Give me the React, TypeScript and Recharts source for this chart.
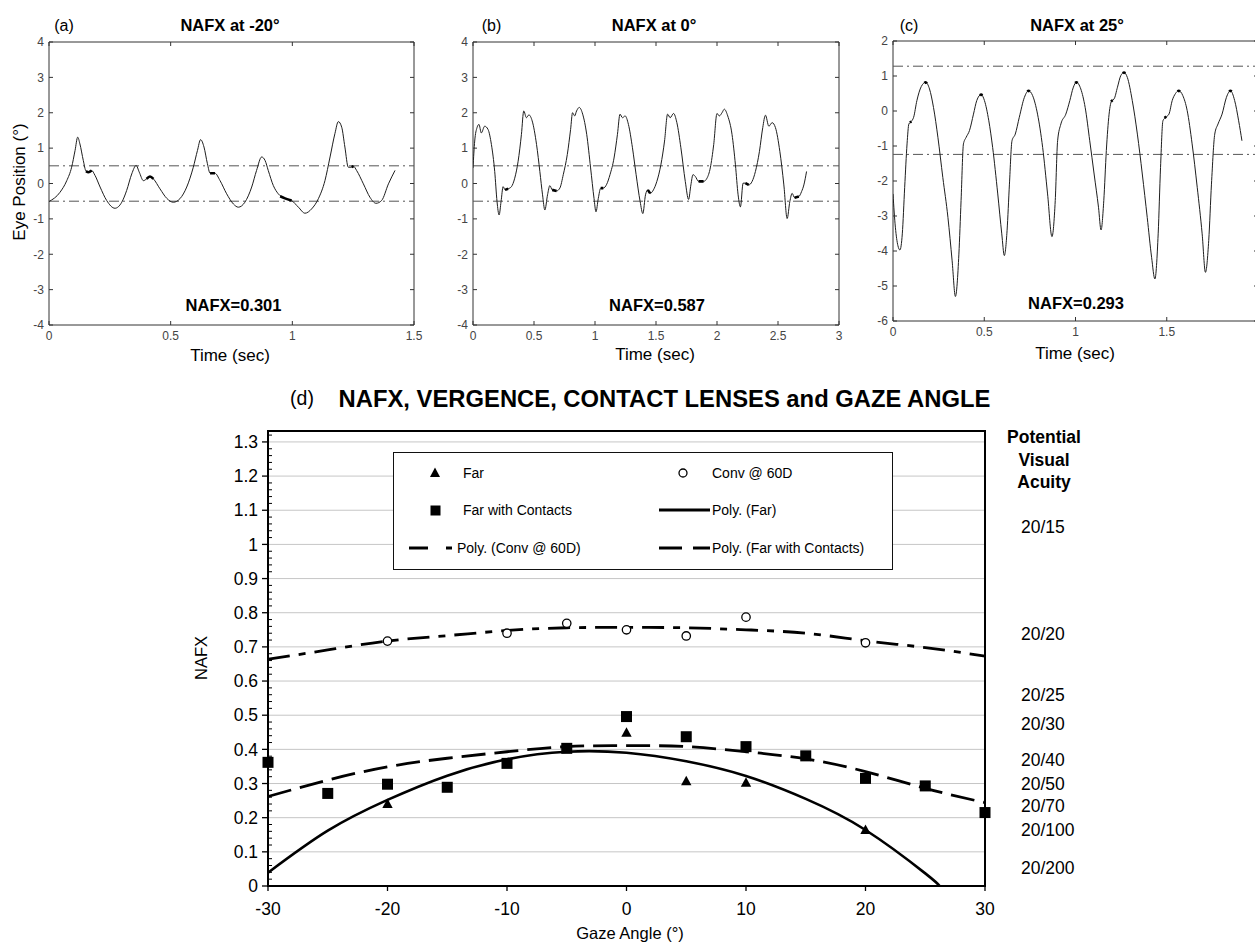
import React from 'react';
import {
  LineChart, Line, XAxis, YAxis, ReferenceLine, ReferenceArea,
  ComposedChart, Scatter, CartesianGrid, Legend,
} from 'recharts';

const FONT = '"Liberation Sans", Arial, Helvetica, sans-serif';

// ---------------- Panel (a): NAFX at -20° ----------------
const timeA = [0, 0.045, 0.073, 0.093, 0.107, 0.118, 0.127, 0.141, 0.152, 0.162, 0.175, 0.189, 0.21, 0.237, 0.271, 0.299, 0.319, 0.34, 0.358, 0.371, 0.388, 0.401, 0.415, 0.429, 0.456, 0.484, 0.511, 0.538, 0.566, 0.593, 0.61, 0.623, 0.637, 0.651, 0.662, 0.682, 0.703, 0.73, 0.758, 0.778, 0.805, 0.833, 0.853, 0.874, 0.888, 0.901, 0.922, 0.942, 0.97, 0.997, 1.025, 1.052, 1.079, 1.107, 1.134, 1.155, 1.175, 1.189, 1.203, 1.216, 1.23, 1.244, 1.251, 1.264, 1.292, 1.319, 1.344, 1.367, 1.395, 1.422];
const posA = [-0.51, -0.25, 0.08, 0.46, 0.93, 1.31, 1.12, 0.65, 0.35, 0.32, 0.37, 0.23, -0.10, -0.48, -0.70, -0.53, -0.20, 0.27, 0.51, 0.32, 0.08, 0.13, 0.20, 0.13, -0.15, -0.42, -0.53, -0.43, -0.10, 0.46, 0.93, 1.24, 1.03, 0.56, 0.29, 0.29, 0.08, -0.29, -0.58, -0.67, -0.53, -0.10, 0.37, 0.75, 0.65, 0.37, -0.06, -0.29, -0.42, -0.48, -0.67, -0.84, -0.72, -0.43, 0.08, 0.75, 1.41, 1.75, 1.59, 1.03, 0.46, 0.46, 0.49, 0.37, -0.01, -0.39, -0.56, -0.48, -0.01, 0.37];
const fovTimeA = [0.152, 0.162, 0.175, 0.3, 0.401, 0.415, 0.429, 0.55, 0.662, 0.682, 0.8, 0.95, 0.97, 0.997, 1.1, 1.244, 1.251];
const fovPosA = [0.35, 0.32, 0.37, null, 0.13, 0.20, 0.13, null, 0.29, 0.29, null, -0.36, -0.42, -0.48, null, 0.46, 0.49];
const threshA = [-0.5, 0.5];
const xTicksA = [0, 0.5, 1, 1.5];
const yTicksAB = [-4, -3, -2, -1, 0, 1, 2, 3, 4];

// ---------------- Panel (b): NAFX at 0° ----------------
const timeB = [0, 0.014, 0.033, 0.049, 0.068, 0.096, 0.123, 0.151, 0.178, 0.197, 0.214, 0.23, 0.247, 0.263, 0.288, 0.315, 0.342, 0.37, 0.397, 0.416, 0.438, 0.458, 0.485, 0.521, 0.548, 0.57, 0.589, 0.611, 0.63, 0.649, 0.685, 0.712, 0.74, 0.773, 0.8, 0.816, 0.833, 0.849, 0.871, 0.899, 0.932, 0.964, 0.992, 1.008, 1.027, 1.047, 1.068, 1.096, 1.123, 1.156, 1.184, 1.205, 1.225, 1.247, 1.274, 1.307, 1.337, 1.37, 1.392, 1.414, 1.433, 1.452, 1.479, 1.507, 1.54, 1.57, 1.595, 1.616, 1.644, 1.671, 1.704, 1.74, 1.767, 1.786, 1.803, 1.822, 1.849, 1.89, 1.918, 1.945, 1.973, 2.0, 2.019, 2.041, 2.06, 2.088, 2.123, 2.151, 2.173, 2.192, 2.214, 2.233, 2.26, 2.288, 2.315, 2.348, 2.375, 2.397, 2.425, 2.452, 2.479, 2.515, 2.548, 2.575, 2.597, 2.616, 2.636, 2.671, 2.693, 2.712, 2.734];
const posB = [0.44, 1.20, 1.58, 1.67, 1.43, 1.62, 1.53, 1.10, 0.34, -0.51, -0.89, -0.51, -0.09, -0.18, -0.15, -0.09, 0.15, 0.63, 1.39, 2.05, 1.86, 1.94, 1.77, 1.10, 0.34, -0.32, -0.75, -0.32, -0.06, -0.18, -0.21, -0.13, 0.25, 0.82, 1.53, 2.00, 1.91, 2.05, 2.15, 1.96, 1.39, 0.44, -0.42, -0.80, -0.42, -0.13, -0.13, -0.02, 0.25, 0.72, 1.39, 1.96, 1.86, 1.91, 1.67, 1.01, 0.25, -0.51, -0.85, -0.32, -0.18, -0.28, -0.18, 0.06, 0.53, 1.20, 1.96, 1.86, 1.98, 1.72, 1.01, 0.06, -0.45, -0.04, 0.25, 0.20, 0.06, 0.06, 0.15, 0.44, 1.10, 1.98, 1.91, 2.00, 2.10, 1.91, 1.39, 0.53, -0.32, -0.66, 0.01, 0.01, -0.04, 0.06, 0.34, 0.91, 1.58, 1.93, 1.62, 1.72, 1.58, 0.91, -0.04, -0.99, -0.51, -0.28, -0.40, -0.37, -0.23, -0.04, 0.34];
const fovTimeB = [0.263, 0.288, 0.45, 0.649, 0.685, 0.9, 1.047, 1.068, 1.2, 1.433, 1.452, 1.6, 1.849, 1.89, 2.0, 2.233, 2.26, 2.4, 2.636, 2.671];
const fovPosB = [-0.18, -0.15, null, -0.18, -0.21, null, -0.13, -0.13, null, -0.18, -0.28, null, 0.06, 0.06, null, 0.01, -0.04, null, -0.40, -0.37];
const threshB = [-0.5, 0.5];
const xTicksB = [0, 0.5, 1, 1.5, 2, 2.5, 3];

// ---------------- Panel (c): NAFX at 25° ----------------
const timeC = [0, 0.013, 0.027, 0.038, 0.051, 0.064, 0.077, 0.087, 0.1, 0.113, 0.131, 0.155, 0.179, 0.2, 0.222, 0.246, 0.273, 0.301, 0.324, 0.342, 0.361, 0.373, 0.386, 0.401, 0.419, 0.441, 0.459, 0.483, 0.501, 0.525, 0.546, 0.574, 0.596, 0.61, 0.625, 0.638, 0.652, 0.67, 0.692, 0.72, 0.743, 0.765, 0.792, 0.82, 0.847, 0.871, 0.889, 0.902, 0.92, 0.947, 0.969, 0.987, 1.005, 1.029, 1.053, 1.078, 1.102, 1.126, 1.14, 1.155, 1.169, 1.184, 1.199, 1.211, 1.23, 1.248, 1.266, 1.284, 1.311, 1.339, 1.366, 1.393, 1.417, 1.435, 1.453, 1.466, 1.479, 1.494, 1.512, 1.53, 1.548, 1.566, 1.588, 1.612, 1.639, 1.667, 1.694, 1.712, 1.73, 1.745, 1.763, 1.781, 1.803, 1.827, 1.849, 1.872, 1.894, 1.912];
const posC = [-2.37, -3.32, -3.85, -3.97, -3.51, -2.18, -0.94, -0.37, -0.30, -0.18, 0.30, 0.70, 0.82, 0.63, 0.10, -0.75, -1.90, -3.04, -4.28, -5.30, -4.09, -2.56, -0.94, -0.75, -0.56, -0.09, 0.30, 0.47, 0.30, -0.28, -1.04, -2.37, -3.51, -4.13, -3.42, -2.09, -0.85, -0.66, -0.18, 0.39, 0.58, 0.44, -0.09, -1.04, -2.37, -3.59, -2.56, -0.85, -0.37, -0.09, 0.30, 0.66, 0.82, 0.63, 0.10, -0.85, -1.80, -2.75, -3.40, -2.56, -1.13, -0.09, 0.30, 0.34, 0.68, 1.01, 1.10, 0.96, 0.30, -0.66, -1.80, -3.04, -4.18, -4.80, -3.51, -1.61, -0.28, -0.18, -0.09, 0.30, 0.50, 0.58, 0.44, 0.01, -0.94, -2.18, -3.51, -4.61, -3.70, -2.09, -0.66, -0.37, -0.09, 0.39, 0.58, 0.30, -0.28, -0.85];
const fovTimeC = [0.093, 0.1, 0.14, 0.172, 0.179, 0.186, 0.3, 0.476, 0.483, 0.49, 0.6, 0.736, 0.743, 0.75, 0.9, 0.998, 1.005, 1.012, 1.1, 1.195, 1.203, 1.23, 1.259, 1.266, 1.273, 1.4, 1.488, 1.497, 1.53, 1.559, 1.566, 1.573, 1.7, 1.842, 1.849, 1.856];
const fovPosC = [-0.33, -0.30, null, 0.80, 0.82, 0.79, null, 0.45, 0.47, 0.45, null, 0.56, 0.58, 0.56, null, 0.80, 0.82, 0.80, null, 0.27, 0.31, null, 1.08, 1.10, 1.08, null, -0.20, -0.16, null, 0.56, 0.58, 0.56, null, 0.56, 0.58, 0.56];
const threshC = [-1.24, 1.28];
const xTicksC = [0, 0.5, 1, 1.5];
const yTicksC = [-6, -5, -4, -3, -2, -1, 0, 1, 2];

// ---------------- Panel (d): NAFX vs gaze angle ----------------
const gazeFar = [-20, 0, 5, 10, 20];
const nafxFar = [0.240, 0.449, 0.307, 0.302, 0.164];
const gazeContacts = [-30, -25, -20, -15, -10, -5, 0, 5, 10, 15, 20, 25, 30];
const nafxContacts = [0.362, 0.271, 0.298, 0.289, 0.359, 0.403, 0.496, 0.437, 0.408, 0.381, 0.315, 0.293, 0.215];
const gazeConv = [-20, -10, -5, 0, 5, 10, 20];
const nafxConv = [0.717, 0.740, 0.769, 0.750, 0.732, 0.787, 0.712];
const fitGaze = [-30, -25, -20, -15, -10, -5, 0, 5, 10, 15, 20, 25, 30];
const fitConv = [0.664, 0.691, 0.717, 0.733, 0.748, 0.756, 0.757, 0.756, 0.750, 0.740, 0.718, 0.698, 0.673];
const fitContacts = [0.262, 0.310, 0.349, 0.374, 0.393, 0.408, 0.411, 0.408, 0.393, 0.372, 0.335, 0.286, 0.244];
const fitFarGaze = [-30, -25, -20, -15, -10, -5, 0, 5, 10, 15, 20, 25, 26.2];
const fitFar = [0.039, 0.162, 0.252, 0.323, 0.371, 0.393, 0.390, 0.365, 0.322, 0.255, 0.164, 0.037, 0];
const nafxMajorTicks = [0, 0.1, 0.2, 0.3, 0.4, 0.5, 0.6, 0.7, 0.8, 0.9, 1, 1.1, 1.2, 1.3];
const gazeTicks = [-30, -20, -10, 0, 10, 20, 30];
const acuityNafx = [1.051, 0.738, 0.559, 0.474, 0.369, 0.299, 0.234, 0.164, 0.053];
const acuityLabels = ['20/15', '20/20', '20/25', '20/30', '20/40', '20/50', '20/70', '20/100', '20/200'];
const NAFX_MAX = 1.332;
const nafxAllTicks: number[] = [];
for (let i = 0; i * 0.02 <= NAFX_MAX; i++) nafxAllTicks.push(Number((i * 0.02).toFixed(2)));

const zipT = (ts: number[], vs: (number | null)[]) => ts.map((t, i) => ({ t, v: vs[i] }));
const zipX = (xs: number[], ys: number[]) => xs.map((x, i) => ({ x, y: ys[i] }));

// ---------------- helpers ----------------
const Txt = ({ x, y, size, bold, children, anchor = 'middle', rotate }: any) => (
  <div
    style={{
      position: 'absolute', left: x, top: y, whiteSpace: 'nowrap', lineHeight: 1,
      fontSize: size, fontWeight: bold ? 'bold' : 'normal', color: '#000',
      transform: `translate(${anchor === 'middle' ? '-50%' : anchor === 'end' ? '-100%' : '0'}, -50%)${rotate ? ` rotate(${rotate}deg)` : ''}`,
    }}
  >
    {children}
  </div>
);

const MatXTick = (p: any) => {
  const { x, y, payload, plotTop, margin } = p;
  const axisY = y - margin;
  return (
    <g>
      <line x1={x} x2={x} y1={axisY} y2={axisY - 4} stroke="#333" strokeWidth={1} />
      <line x1={x} x2={x} y1={plotTop} y2={plotTop + 4} stroke="#333" strokeWidth={1} />
      <text x={x} y={y} dy="0.71em" textAnchor="middle" fontSize={12} fill="#444" fontFamily={FONT}>
        {String(payload.value)}
      </text>
    </g>
  );
};

const MatYTick = (p: any) => {
  const { x, y, payload, plotRight, margin } = p;
  const axisX = x + margin;
  return (
    <g>
      <line x1={axisX} x2={axisX + 4} y1={y} y2={y} stroke="#333" strokeWidth={1} />
      <line x1={plotRight} x2={plotRight - 4} y1={y} y2={y} stroke="#333" strokeWidth={1} />
      <text x={x} y={y} dy="0.355em" textAnchor="end" fontSize={12} fill="#444" fontFamily={FONT}>
        {String(payload.value)}
      </text>
    </g>
  );
};

const TracePanel = ({ left, top, width, height, plotTop, plotBottom, yAxisW, marginRight, xDomain, yDomain, xTicks, yTicks, trace, fov, thresholds }: any) => {
  const plotRight = width - marginRight;
  return (
    <div style={{ position: 'absolute', left, top }}>
      <LineChart width={width} height={height} margin={{ top: plotTop, right: marginRight, bottom: 0, left: 0 }}>
        <XAxis
          type="number" dataKey="t" domain={xDomain} ticks={xTicks} interval={0} allowDataOverflow
          axisLine={false} tickLine={false} tickSize={0} tickMargin={6} height={height - plotBottom}
          tick={(p: any) => <MatXTick {...p} plotTop={plotTop} margin={6} />}
        />
        <YAxis
          type="number" domain={yDomain} ticks={yTicks} interval={0} allowDataOverflow
          axisLine={false} tickLine={false} tickSize={0} tickMargin={5} width={yAxisW}
          tick={(p: any) => <MatYTick {...p} plotRight={plotRight} margin={5} />}
        />
        <ReferenceArea x1={xDomain[0]} x2={xDomain[1]} y1={yDomain[0]} y2={yDomain[1]} fill="none" fillOpacity={0} stroke="#333" strokeWidth={1} ifOverflow="visible" />
        {thresholds.map((v: number) => (
          <ReferenceLine key={v} y={v} stroke="#555" strokeWidth={1} strokeDasharray="10 4 2 4" />
        ))}
        <Line data={trace} dataKey="v" type="monotone" stroke="#1e1e1e" strokeWidth={1} dot={false} isAnimationActive={false} />
        <Line data={fov} dataKey="v" type="monotone" stroke="#000" strokeWidth={2.6} dot={false} connectNulls={false} isAnimationActive={false} />
      </LineChart>
    </div>
  );
};

// ---------------- panel (d) pieces ----------------
const TriangleShape = (p: any) => (
  <polygon points={`${p.cx},${p.cy - 5.5} ${p.cx + 5.2},${p.cy + 4} ${p.cx - 5.2},${p.cy + 4}`} fill="#000" />
);
const SquareShape = (p: any) => <rect x={p.cx - 5.5} y={p.cy - 5.5} width={11} height={11} fill="#000" />;
const CircleShape = (p: any) => <circle cx={p.cx} cy={p.cy} r={4.2} fill="#fff" stroke="#000" strokeWidth={1.3} />;

const NafxTick = (p: any) => {
  const v = p.payload.value;
  const major = Math.abs(v * 10 - Math.round(v * 10)) < 1e-6;
  const axisX = p.x + 10;
  if (!major) {
    return <line x1={axisX} x2={axisX + 4} y1={p.y} y2={p.y} stroke="#000" strokeWidth={1} />;
  }
  return (
    <g>
      <line x1={axisX - 6} x2={axisX} y1={p.y} y2={p.y} stroke="#000" strokeWidth={1.3} />
      <text x={p.x} y={p.y} dy="0.355em" textAnchor="end" fontSize={17.5} fill="#000" fontFamily={FONT}>
        {String(Number(v.toFixed(1)))}
      </text>
    </g>
  );
};

const AcuityTick = (p: any) => {
  const idx = acuityNafx.indexOf(p.payload.value);
  return (
    <text x={p.x} y={p.y} dy="0.355em" textAnchor="start" fontSize={17.5} fill="#000" fontFamily={FONT}>
      {acuityLabels[idx]}
    </text>
  );
};

const LegendBox = () => (
  <div style={{ width: 500, height: 118, border: '1.3px solid #111', background: '#fff', boxSizing: 'border-box', position: 'relative', fontFamily: FONT }}>
    <svg width={500} height={118} style={{ position: 'absolute', left: -1, top: -1 }}>
      <polygon points="42,15.5 47,25 37,25" fill="#000" />
      <text x={70} y={21} dy="0.355em" fontSize={14} fontFamily={FONT}>Far</text>
      <circle cx={290} cy={21} r={4} fill="#fff" stroke="#000" strokeWidth={1.3} />
      <text x={319} y={21} dy="0.355em" fontSize={14} fontFamily={FONT}>Conv @ 60D</text>
      <rect x={37.5} y={53.5} width={10} height={10} fill="#000" />
      <text x={70} y={58} dy="0.355em" fontSize={14} fontFamily={FONT}>Far with Contacts</text>
      <line x1={266} x2={317} y1={58} y2={58} stroke="#000" strokeWidth={3} />
      <text x={319} y={58} dy="0.355em" fontSize={14} fontFamily={FONT}>Poly. (Far)</text>
      <line x1={16} x2={35} y1={96} y2={96} stroke="#000" strokeWidth={3} />
      <line x1={53} x2={59} y1={96} y2={96} stroke="#000" strokeWidth={3} />
      <text x={64} y={96} dy="0.355em" fontSize={14} fontFamily={FONT}>Poly. (Conv @ 60D)</text>
      <line x1={266} x2={289} y1={96} y2={96} stroke="#000" strokeWidth={3} />
      <line x1={300} x2={317} y1={96} y2={96} stroke="#000" strokeWidth={3} />
      <text x={319} y={96} dy="0.355em" fontSize={14} fontFamily={FONT}>Poly. (Far with Contacts)</text>
    </svg>
  </div>
);

export default function App() {
  return (
    <div style={{ position: 'fixed', left: 0, top: 0, width: 1255, height: 943, overflow: 'hidden', background: '#fff', fontFamily: FONT }}>
      {/* (a) */}
      <TracePanel
        left={0} top={0} width={430} height={375} plotTop={42} plotBottom={325} yAxisW={49} marginRight={16}
        xDomain={[0, 1.5]} yDomain={[-4, 4]} xTicks={xTicksA} yTicks={yTicksAB}
        trace={zipT(timeA, posA)} fov={zipT(fovTimeA, fovPosA)} thresholds={threshA}
      />
      {/* (b) */}
      <TracePanel
        left={420} top={0} width={435} height={375} plotTop={42} plotBottom={325} yAxisW={53} marginRight={16}
        xDomain={[0, 3]} yDomain={[-4, 4]} xTicks={xTicksB} yTicks={yTicksAB}
        trace={zipT(timeB, posB)} fov={zipT(fovTimeB, fovPosB)} thresholds={threshB}
      />
      {/* (c) */}
      <TracePanel
        left={840} top={0} width={425} height={371} plotTop={41} plotBottom={321} yAxisW={53} marginRight={7}
        xDomain={[0, 2]} yDomain={[-6, 2]} xTicks={xTicksC} yTicks={yTicksC}
        trace={zipT(timeC, posC)} fov={zipT(fovTimeC, fovPosC)} thresholds={threshC}
      />

      <Txt x={64} y={26} size={16}>(a)</Txt>
      <Txt x={230} y={24.5} size={16.5} bold>NAFX at -20°</Txt>
      <Txt x={233.5} y={305} size={16.5} bold>NAFX=0.301</Txt>
      <Txt x={230} y={355} size={17}>Time (sec)</Txt>
      <Txt x={19} y={182} size={17} rotate={-90}>Eye Position (°)</Txt>

      <Txt x={491.5} y={26} size={16}>(b)</Txt>
      <Txt x={654} y={24.5} size={16.5} bold>NAFX at 0°</Txt>
      <Txt x={657} y={305} size={16.5} bold>NAFX=0.587</Txt>
      <Txt x={655} y={353.5} size={17}>Time (sec)</Txt>

      <Txt x={909} y={26} size={16}>(c)</Txt>
      <Txt x={1077} y={24.5} size={16.5} bold>NAFX at 25°</Txt>
      <Txt x={1076} y={302.7} size={16.5} bold>NAFX=0.293</Txt>
      <Txt x={1075} y={353} size={17}>Time (sec)</Txt>

      {/* (d) */}
      <div style={{ position: 'absolute', left: 0, top: 380 }}>
        <ComposedChart width={1255} height={563} margin={{ top: 51, right: 0, bottom: 0, left: 190 }}>
          <CartesianGrid yAxisId="nafx" vertical={false} horizontal stroke="#c6c6c6" strokeWidth={1} horizontalValues={nafxMajorTicks} />
          <XAxis
            type="number" dataKey="x" domain={[-30, 30]} ticks={gazeTicks} interval={0}
            height={57} axisLine={false} tickSize={5} tickMargin={12}
            tickLine={{ stroke: '#000', strokeWidth: 1.3 }}
            tick={{ fontSize: 17.5, fill: '#000', fontFamily: FONT }}
          />
          <YAxis
            yAxisId="nafx" type="number" domain={[0, NAFX_MAX]} ticks={nafxAllTicks} interval={0}
            width={78} axisLine={false} tickLine={false} tickSize={0} tickMargin={10} tick={NafxTick}
          />
          <YAxis
            yAxisId="acuity" orientation="right" type="number" domain={[0, NAFX_MAX]} ticks={acuityNafx} interval={0} allowDataOverflow
            width={270} axisLine={false} tickLine={false} tickSize={0} tickMargin={36} tick={AcuityTick}
          />
          <ReferenceArea yAxisId="nafx" x1={-30} x2={30} y1={0} y2={NAFX_MAX} fill="none" fillOpacity={0} stroke="#000" strokeWidth={2} ifOverflow="visible" />
          <Line yAxisId="nafx" data={zipX(fitGaze, fitConv)} dataKey="y" type="natural" stroke="#000" strokeWidth={2.8} strokeDasharray="22 9 7 9" dot={false} isAnimationActive={false} />
          <Line yAxisId="nafx" data={zipX(fitGaze, fitContacts)} dataKey="y" type="natural" stroke="#000" strokeWidth={2.8} strokeDasharray="24 9" dot={false} isAnimationActive={false} />
          <Line yAxisId="nafx" data={zipX(fitFarGaze, fitFar)} dataKey="y" type="natural" stroke="#000" strokeWidth={2.6} dot={false} isAnimationActive={false} />
          <Scatter yAxisId="nafx" data={zipX(gazeConv, nafxConv)} dataKey="y" shape={CircleShape} isAnimationActive={false} />
          <Scatter yAxisId="nafx" data={zipX(gazeContacts, nafxContacts)} dataKey="y" shape={SquareShape} isAnimationActive={false} />
          <Scatter yAxisId="nafx" data={zipX(gazeFar, nafxFar)} dataKey="y" shape={TriangleShape} isAnimationActive={false} />
          <Legend
            layout="horizontal" verticalAlign="middle" align="center"
            content={LegendBox}
            wrapperStyle={{ position: 'absolute', left: 393, top: 72, width: 500, height: 118 }}
          />
        </ComposedChart>
      </div>

      <Txt x={302} y={399} size={19.5}>(d)</Txt>
      <Txt x={664.5} y={399} size={23.8} bold>NAFX, VERGENCE, CONTACT LENSES and GAZE ANGLE</Txt>
      <Txt x={201} y={658} size={16.5} rotate={-90}>NAFX</Txt>
      <Txt x={630} y={933} size={16.5}>Gaze Angle (°)</Txt>
      <Txt x={1044} y={438} size={17.5} bold>Potential</Txt>
      <Txt x={1044} y={461} size={17.5} bold>Visual</Txt>
      <Txt x={1044} y={483} size={17.5} bold>Acuity</Txt>
    </div>
  );
}
